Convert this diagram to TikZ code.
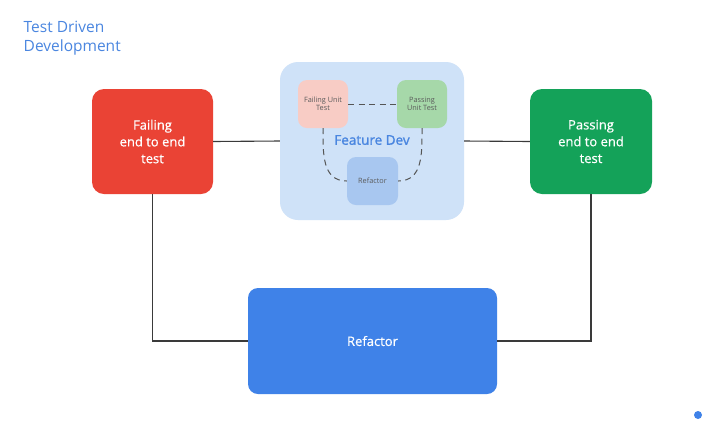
\documentclass[tikz,border=0pt]{standalone}
\usepackage{fontspec}
\setmainfont{Open Sans}
\newfontfamily\medfont{Open Sans}[FakeBold=0.6]
\newfontfamily\semifont{Open Sans}[FakeBold=1.4]
\definecolor{tblue}{HTML}{4A86E0}
\definecolor{tred}{HTML}{EA4335}
\definecolor{tgreen}{HTML}{14A259}
\definecolor{tbig}{HTML}{3F82E8}
\definecolor{tfeat}{HTML}{CFE2F8}
\definecolor{tpink}{HTML}{F8CCC5}
\definecolor{tlgreen}{HTML}{A6D8A9}
\definecolor{tlblue}{HTML}{A8C7F0}
\definecolor{tline}{HTML}{3A3A3A}
\definecolor{tdash}{HTML}{555555}
\definecolor{tsmall}{HTML}{5A5A5A}
\begin{document}
\begin{tikzpicture}[x=1pt,y=-1pt,
  bigbox/.style={rectangle,rounded corners=12pt,draw=none,text=white,align=center,font=\medfont\fontsize{13}{16.8}\selectfont},
  smallbox/.style={rectangle,rounded corners=9pt,draw=none,text=tsmall,align=center,font=\fontsize{7.3}{8.3}\selectfont,minimum width=50pt,minimum height=48pt,inner sep=1pt},
  conn/.style={draw=tline,line width=1.1pt},
  dconn/.style={draw=tdash,line width=1pt,dash pattern=on 6pt off 4.5pt}]
\useasboundingbox (0,0) rectangle (719,424);
\fill[white] (0,0) rectangle (719,424);
\node[anchor=north west,align=left,text=tblue,inner sep=0pt,font=\fontsize{15.5}{19.5}\selectfont] (title) at (23.5,20.5) {Test Driven\\Development};
\node[bigbox,fill=tred,minimum width=121pt,minimum height=105pt] (red) at (152.5,141.5) {Failing\\end to end\\test};
\node[bigbox,fill=tgreen,minimum width=122pt,minimum height=105pt] (green) at (591,141.5) {Passing\\end to end\\test};
\node[rectangle,rounded corners=18pt,fill=tfeat,minimum width=184pt,minimum height=158pt] (feat) at (372,141) {};
\node[text=tblue,font=\semifont\fontsize{13.5}{15}\selectfont] (fdlabel) at (372,140) {Feature Dev};
\node[smallbox,fill=tpink] (failu) at (323,104) {Failing Unit\\Test};
\node[smallbox,fill=tlgreen] (passu) at (422,104) {Passing\\Unit Test};
\node[smallbox,fill=tlblue,minimum width=51pt] (refs) at (372.5,181) {Refactor};
\node[bigbox,fill=tbig,rounded corners=10pt,minimum width=249pt,minimum height=106pt] (big) at (372.5,341) {Refactor};
\draw[dconn] (failu.east) -- (passu.west);
\draw[dconn] (failu.south) to[out=-90,in=180,looseness=1.1] (refs.west);
\draw[dconn] (passu.south) to[out=-90,in=0,looseness=1.1] (refs.east);
\draw[conn] (red.east) -- (feat.west);
\draw[conn] (feat.east) -- (green.west);
\draw[conn] (red.south) |- (big.west);
\draw[conn] (green.south) |- (big.east);
\node[circle,fill=tbig,minimum size=8pt,inner sep=0pt] (dot) at (698,415) {};
\end{tikzpicture}
\end{document}
